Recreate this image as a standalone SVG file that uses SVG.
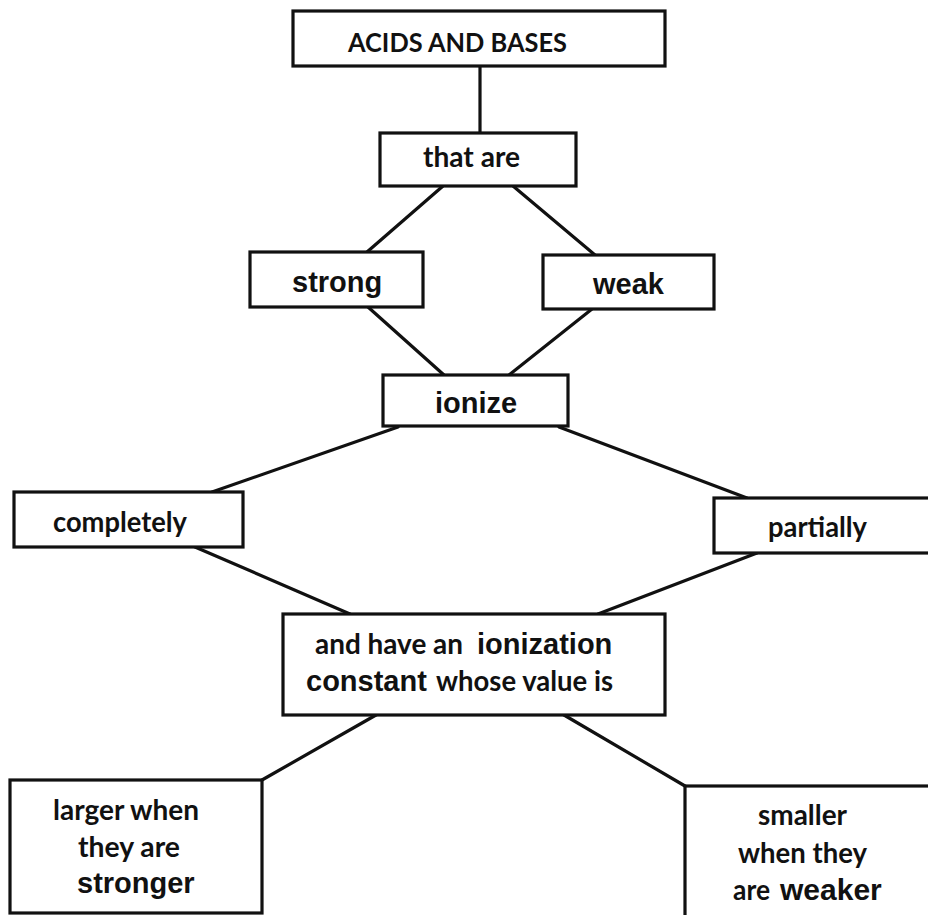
<svg xmlns="http://www.w3.org/2000/svg" width="928" height="915" viewBox="0 0 928 915">
<style>
.box{fill:#fff;stroke:#111;stroke-width:3.2}
.ln{stroke:#111;stroke-width:3.2;fill:none;stroke-linecap:round}
.c{font-family:Lato,"Open Sans","Liberation Sans",sans-serif;font-weight:700;fill:#111;font-size:28px}
.a{font-family:"Liberation Sans",Arial,sans-serif;font-weight:700;font-size:29px;fill:#111}
</style>
<rect width="928" height="915" fill="#fff"/>
<g id="connectors">
<line class="ln" x1="480" y1="66" x2="480" y2="133"/>
<line class="ln" x1="443" y1="186" x2="367" y2="252"/>
<line class="ln" x1="513" y1="186" x2="595" y2="255"/>
<line class="ln" x1="368" y1="307" x2="444" y2="375"/>
<line class="ln" x1="592" y1="309" x2="509" y2="375"/>
<line class="ln" x1="398" y1="427" x2="212" y2="492"/>
<line class="ln" x1="559" y1="427" x2="747" y2="498"/>
<line class="ln" x1="195" y1="547" x2="350" y2="614"/>
<line class="ln" x1="757" y1="553" x2="598" y2="614"/>
<line class="ln" x1="376" y1="715" x2="262" y2="780"/>
<line class="ln" x1="564" y1="715" x2="685" y2="786"/>
</g>
<g id="acids">
<rect class="box" x="293" y="11" width="372" height="55"/>
<text class="c" x="348" y="52" style="font-size:26.5px" textLength="219" lengthAdjust="spacingAndGlyphs">ACIDS AND BASES</text>
</g>
<g id="thatare">
<rect class="box" x="380" y="133" width="196" height="53"/>
<text class="c" x="423" y="167" textLength="97" lengthAdjust="spacingAndGlyphs">that are</text>
</g>
<g id="strong">
<rect class="box" x="250" y="252" width="173" height="55"/>
<text class="a" x="292" y="292">strong</text>
</g>
<g id="weak">
<rect class="box" x="543" y="255" width="171" height="54"/>
<text class="a" x="593" y="294">weak</text>
</g>
<g id="ionize">
<rect class="box" x="383" y="375" width="185" height="51"/>
<text class="a" x="435" y="413">ionize</text>
</g>
<g id="completely">
<rect class="box" x="14" y="492" width="229" height="55"/>
<text class="c" x="53" y="532" textLength="134" lengthAdjust="spacingAndGlyphs">completely</text>
</g>
<g id="partially">
<rect class="box" x="714" y="498" width="220" height="55"/>
<text class="c" x="768" y="537" textLength="99" lengthAdjust="spacingAndGlyphs">partially</text>
</g>
<g id="constant">
<rect class="box" x="283" y="614" width="382" height="101"/>
<text class="c" x="315" y="654" textLength="148" lengthAdjust="spacingAndGlyphs">and have an</text>
<text class="a" x="477" y="654">ionization</text>
<text class="a" x="306" y="691">constant</text>
<text class="c" x="436" y="691" textLength="177" lengthAdjust="spacingAndGlyphs">whose value is</text>
</g>
<g id="larger">
<rect class="box" x="10" y="780" width="252" height="133"/>
<text class="c" x="53" y="820" textLength="146" lengthAdjust="spacingAndGlyphs">larger when</text>
<text class="c" x="78" y="857" textLength="102" lengthAdjust="spacingAndGlyphs">they are</text>
<text class="a" x="77" y="893">stronger</text>
</g>
<g id="smaller">
<rect class="box" x="685" y="786" width="260" height="140"/>
<text class="c" x="758" y="825" textLength="89" lengthAdjust="spacingAndGlyphs">smaller</text>
<text class="c" x="738" y="863" textLength="129" lengthAdjust="spacingAndGlyphs">when they</text>
<text class="c" x="733" y="900" textLength="37" lengthAdjust="spacingAndGlyphs">are</text>
<text class="a" x="780" y="900" style="font-size:30px">weaker</text>
</g>
</svg>
